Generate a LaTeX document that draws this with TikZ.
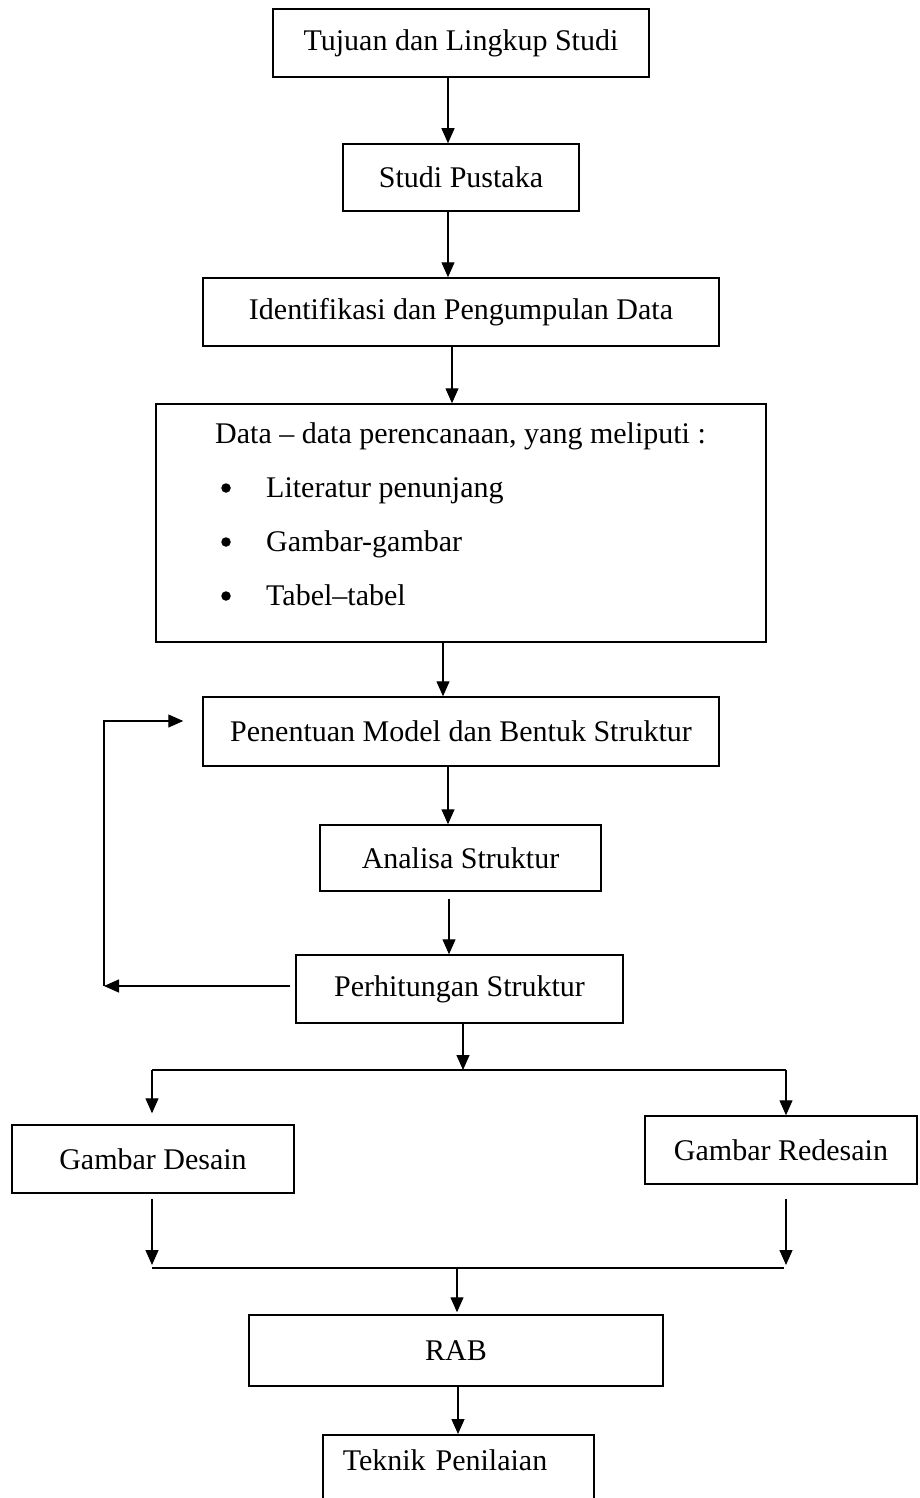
\documentclass[tikz,border=0pt]{standalone}
\usepackage{fontspec}
\setmainfont{Liberation Serif}
\usetikzlibrary{arrows.meta}
\begin{document}
\begin{tikzpicture}[x=1pt,y=-1pt,
  box/.style={draw, line width=1.5pt, rectangle, inner sep=0pt, font=\fontsize{30}{36}\selectfont},
  txt/.style={inner sep=0pt, font=\fontsize{30}{36}\selectfont},
  bul/.style={circle, fill=black, inner sep=0pt, minimum size=9.5pt},
  arr/.style={line width=1.3pt, -{Triangle[length=15pt,width=13pt]}},
  ln/.style={line width=1.3pt}]
\useasboundingbox (0,0) rectangle (919,1498);
\clip (0,0) rectangle (919,1498);

% boxes
\node[box, minimum width=376pt, minimum height=68pt] (tuj) at (461,43) {Tujuan dan Lingkup Studi};
\node[box, minimum width=236pt, minimum height=67pt] (stu) at (461,177.5) {Studi Pustaka};
\node[box, minimum width=516pt, minimum height=68pt] (ide) at (461,312) {Identifikasi dan Pengumpulan Data};
\node[box, minimum width=610pt, minimum height=238pt] (dat) at (461,523) {};
\node[txt, anchor=base west] (d0) at (215,443) {Data – data perencanaan, yang meliputi :};
\node[bul] (b1) at (226,488) {};
\node[txt, anchor=base west] (d1) at (266,497) {Literatur penunjang};
\node[bul] (b2) at (226,542) {};
\node[txt, anchor=base west] (d2) at (266,551) {Gambar-gambar};
\node[bul] (b3) at (226,596) {};
\node[txt, anchor=base west] (d3) at (266,605) {Tabel–tabel};
\node[box, minimum width=516pt, minimum height=69pt] (pen) at (461,731.5) {Penentuan Model dan Bentuk Struktur};
\node[box, minimum width=281pt, minimum height=66pt] (ana) at (460.5,858) {Analisa Struktur};
\node[box, minimum width=327pt, minimum height=68pt] (per) at (459.5,989) {Perhitungan Struktur};
\node[box, minimum width=282pt, minimum height=68pt] (gde) at (153,1159) {Gambar Desain};
\node[box, minimum width=272pt, minimum height=68pt] (gre) at (781,1150) {Gambar Redesain};
\node[box, minimum width=414pt, minimum height=71pt] (rab) at (456,1350.5) {RAB};
\node[box, anchor=north west, text width=231pt, align=left, inner xsep=20pt, inner ysep=0pt,
      text height=36pt, text depth=40pt] (tek) at (322,1434) {Teknik Penilaian};

% column coordinates
\coordinate (c1) at (448,0);
\coordinate (c2) at (452,0);
\coordinate (c3) at (443,0);
\coordinate (c4) at (449,0);
\coordinate (c5) at (463,1070);
\coordinate (spL) at (152,1070);
\coordinate (spR) at (786,1070);
\coordinate (mL) at (152,1268);
\coordinate (mR) at (784,1268);
\coordinate (mC) at (457,1268);
\coordinate (c6) at (458,0);
\coordinate (fbL) at (104,986);
\coordinate (fbT) at (104,721);

% main chain
\draw[arr] (tuj.south -| c1) -- (stu.north -| c1);
\draw[arr] (stu.south -| c1) -- (ide.north -| c1);
\draw[arr] (ide.south -| c2) -- (dat.north -| c2);
\draw[arr] (dat.south -| c3) -- (pen.north -| c3);
\draw[arr] (pen.south -| c1) -- (ana.north -| c1);
\draw[arr, shorten <=7pt] (ana.south -| c4) -- (per.north -| c4);
\draw[arr] (per.south -| c5) -- (c5);

% split
\draw[ln] (spL) -- (spR);
\draw[arr, shorten >=11pt] (spL) -- (spL |- gde.north);
\draw[arr] (spR) -- (spR |- gre.north);

% merge
\draw[arr, shorten <=5pt, shorten >=3pt] (gde.south -| mL) -- (mL);
\draw[arr, shorten <=14pt, shorten >=3pt] (gre.south -| spR) -- (spR |- mL);
\draw[ln] (mL) -- (mR);
\draw[arr, shorten >=2pt] (mC) -- (rab.north -| mC);
\draw[arr] (rab.south -| c6) -- (tek.north -| c6);

% feedback loop
\draw[arr, shorten <=5pt] (per.west |- fbL) -- (fbL);
\draw[arr, shorten >=19pt] (fbL) -- (fbT) -- (pen.west |- fbT);
\end{tikzpicture}
\end{document}
